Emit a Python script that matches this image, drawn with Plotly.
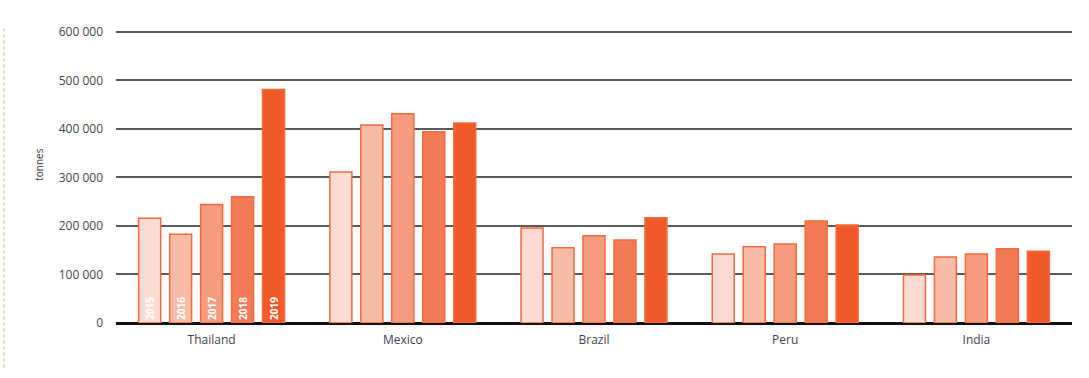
import plotly.graph_objects as go

countries = ["Thailand", "Mexico", "Brazil", "Peru", "India"]
years = ["2015", "2016", "2017", "2018", "2019"]
values = {
    "2015": [216000, 311000, 196000, 142000, 99000],
    "2016": [183000, 408000, 155000, 157000, 136000],
    "2017": [244000, 431000, 180000, 163000, 142000],
    "2018": [260000, 394000, 171000, 210000, 153000],
    "2019": [481000, 412000, 217000, 202000, 148000],
}
fills = ["#fcdcd2", "#f8bba6", "#f59c7e", "#f17b55", "#ef5a28"]
border = "#f26a3f"

fig = go.Figure()
for y, c in zip(years, fills):
    fig.add_trace(go.Bar(
        x=countries, y=values[y], name=y,
        marker=dict(color=c, line=dict(color=border, width=1.5)),
        text=["<b>" + y + "</b>"] + [""] * (len(countries) - 1),
        textposition="inside", insidetextanchor="start", textangle=-90,
        textfont=dict(color="white", size=10, family="Open Sans"),
        hoverinfo="x+y+name",
    ))

fig.update_layout(
    width=1089, height=378,
    margin=dict(l=116, r=17, t=27, b=55),
    paper_bgcolor="white", plot_bgcolor="white",
    barmode="group", bargap=0.19, bargroupgap=0.29,
    showlegend=False,
    separators=". ",
    font=dict(family="Open Sans", color="#444444", size=12),
    xaxis=dict(showgrid=False, tickfont=dict(size=12, color="#3f3f4f"),
               ticks="", showline=False, ticklabelstandoff=8),
    yaxis=dict(range=[0, 610000], dtick=100000, tickformat=",d",
               gridcolor="#5a5a5a", gridwidth=1.5,
               zeroline=True, zerolinecolor="#111111", zerolinewidth=2.5,
               tickfont=dict(size=12, color="#444444"),
               ticklabelstandoff=12),
)
fig.add_annotation(text="tonnes", xref="paper", yref="y", x=-0.09, y=326000,
                   textangle=-90, showarrow=False,
                   font=dict(size=10, color="#333333", family="Open Sans"))
fig.add_shape(type="line", xref="paper", yref="paper", x0=-0.117, x1=-0.117,
              y0=-0.15, y1=1.0, line=dict(color="#c8d4b0", width=1.5, dash="dot"))
fig.write_html("out.html")
